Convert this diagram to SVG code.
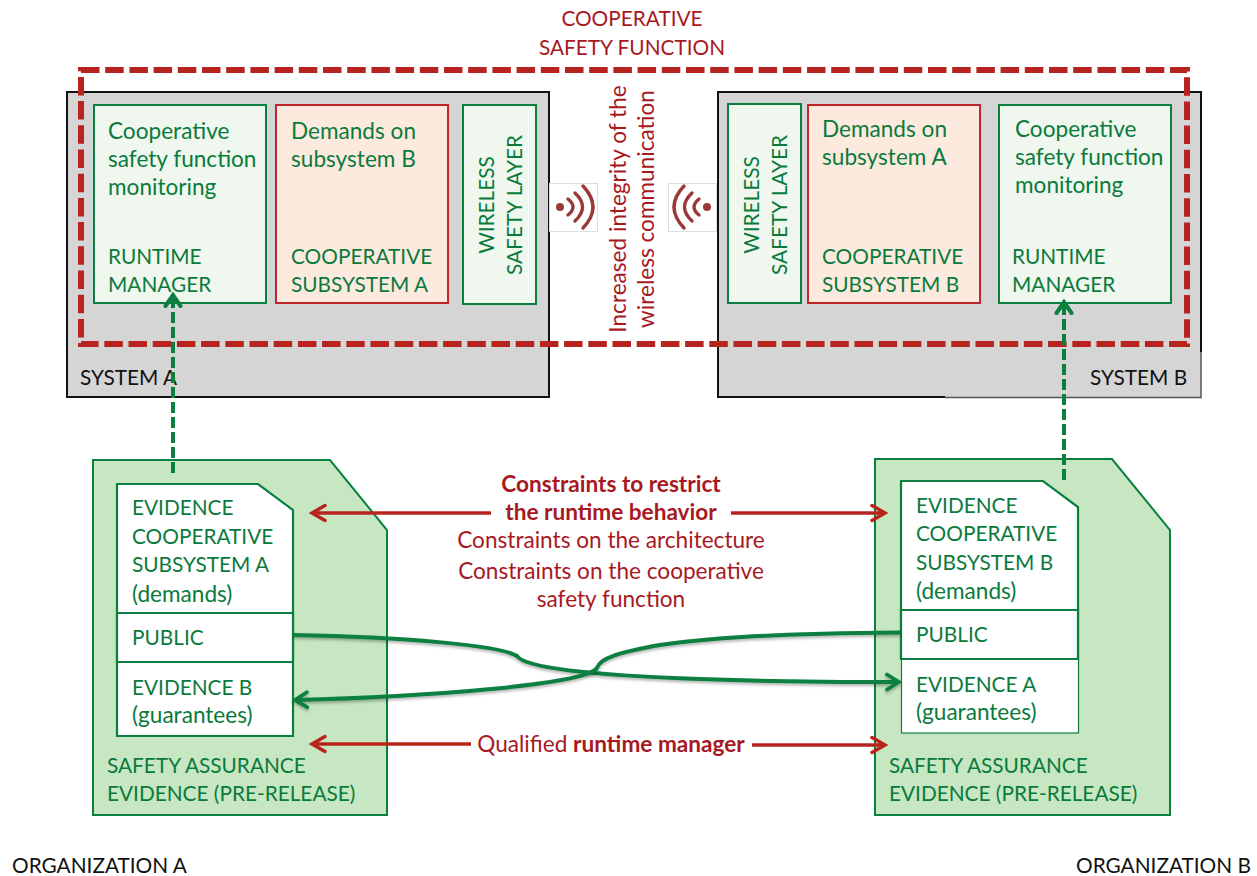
<svg xmlns="http://www.w3.org/2000/svg" width="1257" height="876" viewBox="0 0 1257 876">
<style>
text{font-family:Lato,"Open Sans","Liberation Sans",sans-serif;font-size:22.6px}
.u{font-size:20.8px}
.g{fill:#0a7a3c}.r{fill:#a8181f}.k{fill:#111;font-size:20.8px}.m{text-anchor:middle}.b{font-weight:700}
.sys{fill:#d5d5d5;stroke:none}
.edge{fill:none;stroke:#111;stroke-width:2}
.thin{fill:none;stroke:#555;stroke-width:1.5}
.gb{fill:#eff7ee;stroke:#0a7f40;stroke-width:2}
.rb{fill:#fdeadf;stroke:#c0272d;stroke-width:2}
.doc{fill:#c6e7c1;stroke:#0a7f40;stroke-width:2}
.wh{fill:#fff;stroke:#0a7f40;stroke-width:2.2}
.wh2{fill:#fff;stroke:#0a7f40;stroke-width:1.2}
.ra{fill:none;stroke:#b8241c;stroke-width:3.5}
.ga{fill:none;stroke:#0a7f40;stroke-width:4;filter:url(#sh)}
.gd{fill:none;stroke:#0a7f40;stroke-width:4;stroke-dasharray:11 4;marker-end:url(#ge)}
.wave{fill:none;stroke:#9a3a38;stroke-width:3.400;stroke-linecap:round}
</style>
<defs>
<filter id="sh" x="-5%" y="-20%" width="110%" height="150%"><feDropShadow dx="0" dy="2" stdDeviation="1.500" flood-color="#000" flood-opacity=".3"/></filter>
<marker id="re" viewBox="0 0 20 20" refX="17" refY="10" markerWidth="20" markerHeight="20" markerUnits="userSpaceOnUse" orient="auto"><path d="M4 2.500L17 10L4 17.500" fill="none" stroke="#b8241c" stroke-width="3.5" stroke-linecap="round" stroke-linejoin="miter"/></marker>
<marker id="ge" viewBox="0 0 20 20" refX="17" refY="10" markerWidth="20" markerHeight="20" markerUnits="userSpaceOnUse" orient="auto"><path d="M6 2.500L17 10L6 17.500" fill="none" stroke="#0a7f40" stroke-width="4" stroke-linecap="round"/></marker>
<marker id="gh" viewBox="0 0 20 20" refX="17" refY="10" markerWidth="20" markerHeight="20" markerUnits="userSpaceOnUse" orient="auto"><path d="M5 2.500L17 10L5 17.500" fill="none" stroke="#0a7f40" stroke-width="3.8" stroke-linecap="round"/></marker>
</defs>

<g id="system-a"><rect class="sys" x="67" y="92" width="482" height="305"/><rect class="edge" x="67" y="92" width="482" height="305"/><text class="k" x="80" y="385">SYSTEM A</text></g>
<g id="system-b"><rect class="sys" x="718" y="92" width="483" height="305"/><path class="edge" d="M945 397H718V92H1201V352"/><path class="thin" d="M1201 352V397.500H945"/><text class="k" x="1090" y="385">SYSTEM B</text></g>

<g id="runtime-manager-a"><rect class="gb" x="94" y="105" width="172" height="198"/>
<text class="g" x="108" y="139">Cooperative</text><text class="g" x="108" y="167">safety function</text><text class="g" x="108" y="195">monitoring</text><text class="g u" x="108" y="264">RUNTIME</text><text class="g u" x="108" y="292">MANAGER</text></g>
<g id="subsystem-a"><rect class="rb" x="276" y="105" width="172" height="198"/>
<text class="g" x="291" y="139">Demands on</text><text class="g" x="291" y="167">subsystem B</text><text class="g u" x="291" y="264">COOPERATIVE</text><text class="g u" x="291" y="292">SUBSYSTEM A</text></g>
<g id="wsl-a"><rect class="gb" x="463" y="105" width="73" height="199"/>
<text class="g m u" transform="translate(494,205) rotate(-90)">WIRELESS</text><text class="g m u" transform="translate(522,205) rotate(-90)">SAFETY LAYER</text></g>

<g id="wsl-b"><rect class="gb" x="728" y="104" width="73" height="199"/>
<text class="g m u" transform="translate(759,205) rotate(-90)">WIRELESS</text><text class="g m u" transform="translate(787,205) rotate(-90)">SAFETY LAYER</text></g>
<g id="subsystem-b"><rect class="rb" x="808" y="105" width="172" height="198"/>
<text class="g" x="822" y="137">Demands on</text><text class="g" x="822" y="165">subsystem A</text><text class="g u" x="822" y="264">COOPERATIVE</text><text class="g u" x="822" y="292">SUBSYSTEM B</text></g>
<g id="runtime-manager-b"><rect class="gb" x="999" y="105" width="172" height="198"/>
<text class="g" x="1015" y="137">Cooperative</text><text class="g" x="1015" y="165">safety function</text><text class="g" x="1015" y="193">monitoring</text><text class="g u" x="1012" y="264">RUNTIME</text><text class="g u" x="1012" y="292">MANAGER</text></g>

<g id="cooperative-safety-function"><rect x="81" y="70" width="1106" height="274" fill="none" stroke="#b8221f" stroke-width="6" stroke-dasharray="18.500 5.700"/>
<text class="r m u" x="632" y="26">COOPERATIVE</text><text class="r m u" x="632" y="55">SAFETY FUNCTION</text></g>

<g id="wireless-a"><rect x="549.500" y="183.500" width="48" height="48" fill="#fff" stroke="#ddd"/><circle cx="560" cy="207" r="4" fill="#9a3a38"/><path class="wave" d="M568 199Q578 207 568 215M575 193Q590 207 575 221M583 186Q603 207 583 228"/></g>
<g id="wireless-b"><rect x="668.500" y="183.500" width="48" height="48" fill="#fff" stroke="#ddd"/><circle cx="707" cy="207" r="4" fill="#9a3a38"/><path class="wave" d="M699 199Q689 207 699 215M692 193Q677 207 692 221M684 186Q664 207 684 228"/></g>
<g id="integrity-label"><text class="r m" transform="translate(626,209) rotate(-90)">Increased integrity of the</text><text class="r m" transform="translate(654,209) rotate(-90)">wireless communication</text></g>

<g id="evidence-a"><path class="doc" d="M93 460H330L387 530V815H93Z"/>
<path class="wh" d="M117 484H258L293 510V736H117Z"/><path class="wh" d="M117 613H293V662H117Z"/>
<text class="g u" x="132" y="515">EVIDENCE</text><text class="g u" x="132" y="544">COOPERATIVE</text><text class="g u" x="132" y="572">SUBSYSTEM A</text><text class="g" x="132" y="602">(demands)</text><text class="g u" x="132" y="645">PUBLIC</text><text class="g u" x="132" y="695">EVIDENCE B</text><text class="g" x="132" y="723">(guarantees)</text>
<text class="g u" x="107" y="773">SAFETY ASSURANCE</text><text class="g u" x="107" y="801">EVIDENCE (PRE-RELEASE)</text></g>

<g id="evidence-b"><path class="doc" d="M875 459H1112L1170 530V815H875Z"/>
<rect class="wh2" x="901.500" y="659" width="177" height="74"/>
<path class="wh" d="M901 659V481H1043L1078 507V659Z"/><path class="wh" d="M901 610H1078V659H901Z"/>
<text class="g u" x="916" y="513">EVIDENCE</text><text class="g u" x="916" y="541">COOPERATIVE</text><text class="g u" x="916" y="570">SUBSYSTEM B</text><text class="g" x="916" y="599">(demands)</text><text class="g u" x="916" y="642">PUBLIC</text><text class="g u" x="916" y="692">EVIDENCE A</text><text class="g" x="916" y="720">(guarantees)</text>
<text class="g u" x="889" y="773">SAFETY ASSURANCE</text><text class="g u" x="889" y="801">EVIDENCE (PRE-RELEASE)</text></g>

<g id="connectors">
<path class="gd" d="M173 473V295"/>
<path class="gd" d="M1064 480V302"/>
<path class="ga" d="M293 635C400 637 500 645 517 656C525 668 590 675 700 679C780 682 840 682 899 682" style="marker-end:url(#gh)"/>
<path class="ga" d="M901 632.500C800 633 720 636 660 645C620 652 600 658 597 668C585 685 420 697 295 700" style="marker-end:url(#gh)"/>
<path class="ra" d="M491 513H312" style="marker-end:url(#re)"/><path class="ra" d="M731 513H885" style="marker-end:url(#re)"/>
<path class="ra" d="M471 744H312" style="marker-end:url(#re)"/><path class="ra" d="M752 745H885" style="marker-end:url(#re)"/>
</g>
<text class="r m b" x="611" y="492">Constraints to restrict</text>
<text class="r m b" x="611" y="520">the runtime behavior</text>
<text class="r m" x="611" y="548">Constraints on the architecture</text>
<text class="r m" x="611" y="579">Constraints on the cooperative</text>
<text class="r m" x="611" y="607">safety function</text>
<text class="r m" x="611" y="752">Qualified <tspan class="b">runtime manager</tspan></text>
<text class="k" x="12" y="873">ORGANIZATION A</text>
<text class="k" x="1076" y="873">ORGANIZATION B</text>
</svg>
